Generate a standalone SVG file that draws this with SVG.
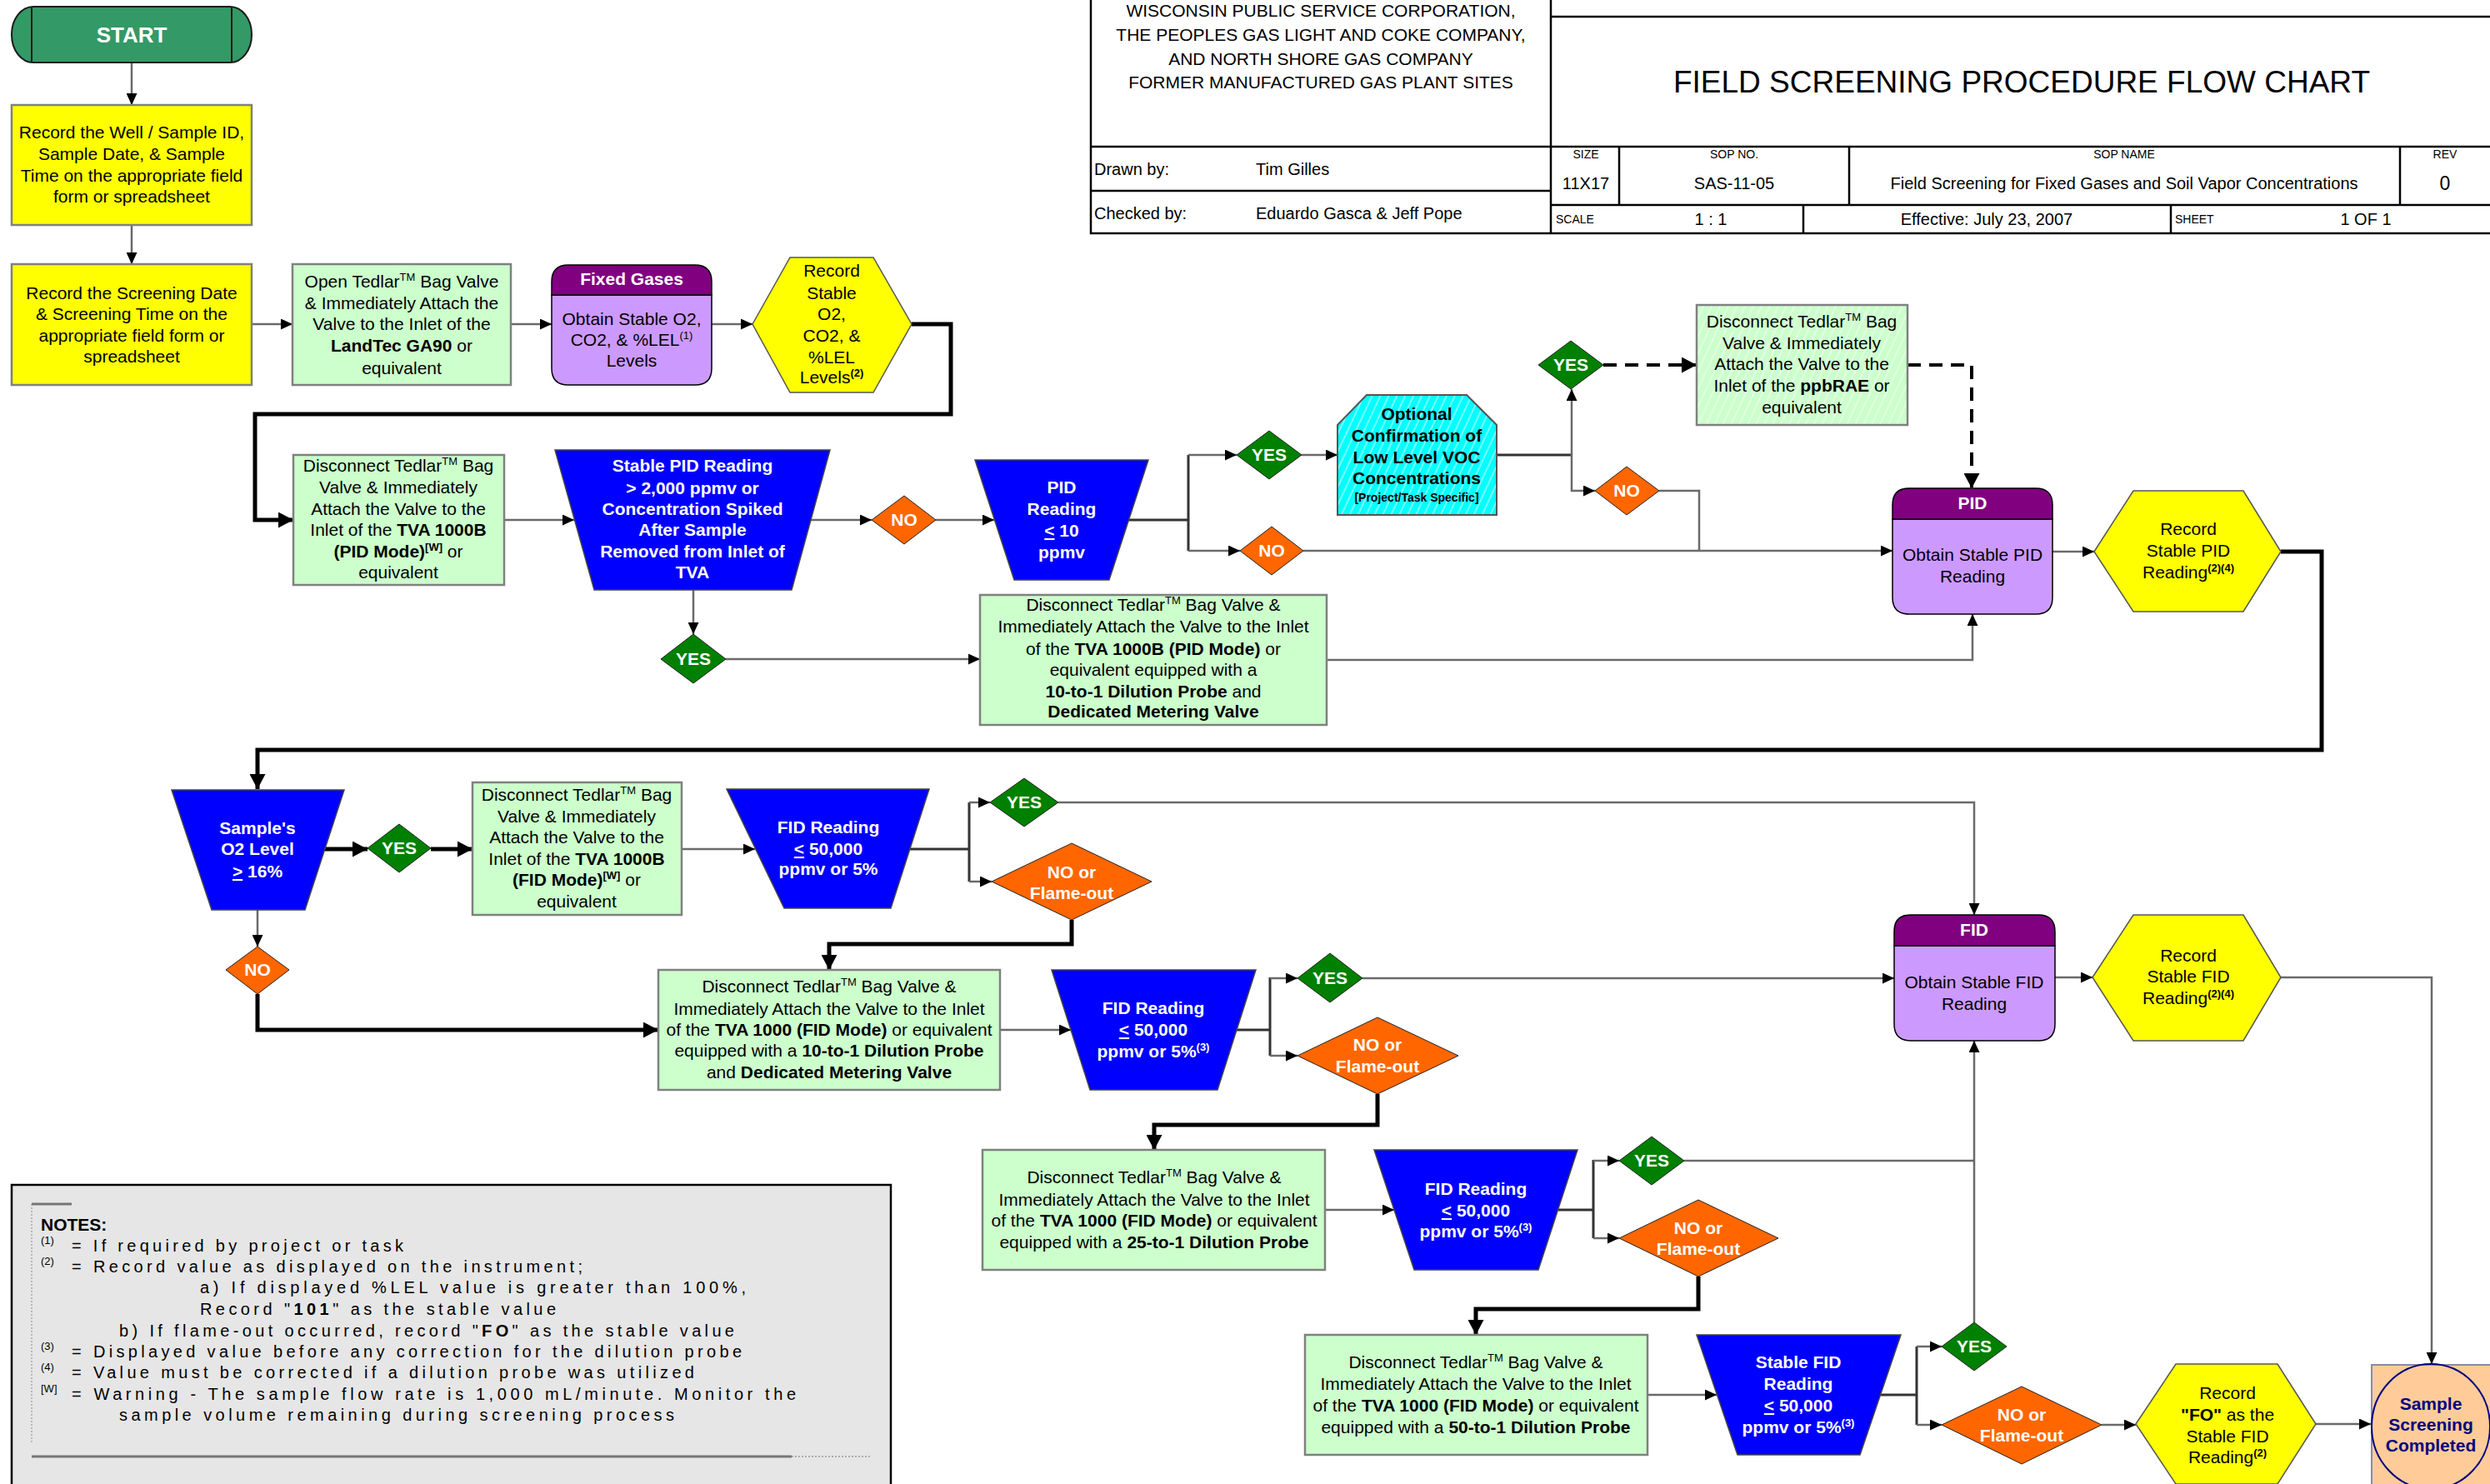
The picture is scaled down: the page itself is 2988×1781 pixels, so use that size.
<svg xmlns="http://www.w3.org/2000/svg" width="2988" height="1781" viewBox="0 0 2988 1781">
<style>
text{font-family:"Liberation Sans",Arial,sans-serif;font-size:21px;fill:#000}
.m{text-anchor:middle}
.w{fill:#fff;font-weight:bold}
.b{font-weight:bold}
.sup{font-size:13px}
.sm{font-size:14px}
.ln{fill:none;stroke:#6a6a6a;stroke-width:2.5}
.lk{fill:none;stroke:#333;stroke-width:3}
.thk{fill:none;stroke:#000;stroke-width:5}
.dsh{fill:none;stroke:#000;stroke-width:4;stroke-dasharray:16 10}
.grn{fill:#CCFFCC;stroke:#808080;stroke-width:2.5}
.yel{fill:#FFFF00;stroke:#808080;stroke-width:2.5}
.hex{fill:#FFFF00;stroke:#555;stroke-width:1.5}
.trap{fill:#0000FF;stroke:#444;stroke-width:1.5}
.yes{fill:#008000;stroke:#222;stroke-width:1}
.no{fill:#FF6600;stroke:#222;stroke-width:1}
.hdr{fill:#800080}
.body{fill:#CC99FF}
.tb{fill:none;stroke:#000;stroke-width:2.5}
.nt{font-size:20px}
.ns{font-size:13px}
</style>
<defs>
<marker id="a" markerWidth="14" markerHeight="13" refX="14" refY="6.5" orient="auto" markerUnits="userSpaceOnUse"><path d="M0,0 L14,6.5 L0,13 z" fill="#000"/></marker>
<marker id="ab" markerWidth="18" markerHeight="19" refX="18" refY="9.5" orient="auto" markerUnits="userSpaceOnUse"><path d="M0,0 L18,9.5 L0,19 z" fill="#000"/></marker>
<pattern id="hc" width="9" height="9" patternUnits="userSpaceOnUse" patternTransform="rotate(25)"><rect width="9" height="9" fill="#00FFFF"/><line x1="1" y1="0" x2="1" y2="9" stroke="#A0FFFF" stroke-width="1.5"/></pattern>
<pattern id="hg" width="9" height="9" patternUnits="userSpaceOnUse" patternTransform="rotate(25)"><rect width="9" height="9" fill="#CCFFCC"/><line x1="1" y1="0" x2="1" y2="9" stroke="#E8FFE8" stroke-width="1.5"/></pattern>
</defs>

<g id="title-block">
<path class="tb" d="M1309,0 V280 H2988 M1861,0 V280 M1861,20 H2988 M1309,176 H2988 M1309,229 H1861 M1861,246 H2988 M1943,176 V246 M2219,176 V246 M2880,176 V246 M2164,246 V280 M2605,246 V280"/>
<text class="m" x="1585" y="20">WISCONSIN PUBLIC SERVICE CORPORATION,</text>
<text class="m" x="1585" y="49">THE PEOPLES GAS LIGHT AND COKE COMPANY,</text>
<text class="m" x="1585" y="78">AND NORTH SHORE GAS COMPANY</text>
<text class="m" x="1585" y="106">FORMER MANUFACTURED GAS PLANT SITES</text>
<text class="m" x="2426" y="111" style="font-size:37px">FIELD SCREENING PROCEDURE FLOW CHART</text>
<text x="1313" y="210" style="font-size:20px">Drawn by:</text>
<text x="1507" y="210" style="font-size:20px">Tim Gilles</text>
<text x="1313" y="263" style="font-size:20px">Checked by:</text>
<text x="1507" y="263" style="font-size:20px">Eduardo Gasca &amp; Jeff Pope</text>
<text class="m sm" x="1903" y="190">SIZE</text>
<text class="m" x="1903" y="227" style="font-size:20px">11X17</text>
<text class="m sm" x="2081" y="190">SOP NO.</text>
<text class="m" x="2081" y="227" style="font-size:20px">SAS-11-05</text>
<text class="m sm" x="2549" y="190">SOP NAME</text>
<text class="m" x="2549" y="227" style="font-size:20px">Field Screening for Fixed Gases and Soil Vapor Concentrations</text>
<text class="m sm" x="2934" y="190">REV</text>
<text class="m" x="2934" y="228" style="font-size:23px">0</text>
<text class="sm" x="1867" y="268">SCALE</text>
<text class="m" x="2053" y="270" style="font-size:20px">1 : 1</text>
<text class="m" x="2384" y="270" style="font-size:20px">Effective: July 23, 2007</text>
<text class="sm" x="2610" y="268">SHEET</text>
<text class="m" x="2839" y="270" style="font-size:20px">1 OF 1</text>
</g>

<g id="notes">
<rect x="14" y="1422" width="1055" height="400" fill="#E6E6E6" stroke="#000" stroke-width="2.5"/>
<path d="M38,1445 H86" stroke="#777" stroke-width="3" fill="none"/>
<path d="M38,1445 V1733" stroke="#888" stroke-width="1" stroke-dasharray="2 2" fill="none"/>
<path d="M38,1748 H950" stroke="#777" stroke-width="3" fill="none"/>
<path d="M950,1748 H1044" stroke="#999" stroke-width="1.5" stroke-dasharray="2 2" fill="none"/>
<text class="b" x="49" y="1477">NOTES:</text>
<text class="ns" x="49" y="1493">(1)</text>
<text class="nt" x="86" y="1502" textLength="398" lengthAdjust="spacing">= If required by project or task</text>
<text class="ns" x="49" y="1518">(2)</text>
<text class="nt" x="86" y="1527" textLength="613" lengthAdjust="spacing">= Record value as displayed on the instrument;</text>
<text class="nt" x="240" y="1552" textLength="655" lengthAdjust="spacing">a) If displayed %LEL value is greater than 100%,</text>
<text class="nt" x="240" y="1578" textLength="427" lengthAdjust="spacing">Record "<tspan class="b">101</tspan>" as the stable value</text>
<text class="nt" x="143" y="1604" textLength="738" lengthAdjust="spacing">b) If flame-out occurred, record "<tspan class="b">FO</tspan>" as the stable value</text>
<text class="ns" x="49" y="1620">(3)</text>
<text class="nt" x="86" y="1629" textLength="804" lengthAdjust="spacing">= Displayed value before any correction for the dilution probe</text>
<text class="ns" x="49" y="1645">(4)</text>
<text class="nt" x="86" y="1654" textLength="747" lengthAdjust="spacing">= Value must be corrected if a dilution probe was utilized</text>
<text class="ns" x="49" y="1671">[W]</text>
<text class="nt" x="86" y="1680" textLength="869" lengthAdjust="spacing">= Warning - The sample flow rate is 1,000 mL/minute.  Monitor the</text>
<text class="nt" x="143" y="1705" textLength="666" lengthAdjust="spacing">sample volume remaining during screening process</text>
</g>

<g id="connectors">
<path class="ln" d="M158,75 V126" marker-end="url(#a)"/>
<path class="ln" d="M158,270 V317" marker-end="url(#a)"/>
<path class="ln" d="M302,389 H351" marker-end="url(#a)"/>
<path class="ln" d="M613,389 H662" marker-end="url(#a)"/>
<path class="ln" d="M854,389 H903" marker-end="url(#a)"/>
<path class="thk" d="M1094,389 H1141 V497 H306 V624 H352" marker-end="url(#ab)"/>
<path class="ln" d="M605,624 H689" marker-end="url(#a)"/>
<path class="ln" d="M973,624 H1046" marker-end="url(#a)"/>
<path class="ln" d="M1123,624 H1193" marker-end="url(#a)"/>
<path class="lk" d="M1354,624 H1426 M1426,546 V661"/>
<path class="ln" d="M1426,546 H1484" marker-end="url(#a)"/>
<path class="ln" d="M1426,661 H1488" marker-end="url(#a)"/>
<path class="ln" d="M1562,546 H1605" marker-end="url(#a)"/>
<path class="lk" d="M1796,546 H1886"/>
<path class="ln" d="M1886,546 V467" marker-end="url(#a)"/>
<path class="ln" d="M1886,546 V589 H1914" marker-end="url(#a)"/>
<path class="dsh" d="M1924,438 H2036" marker-end="url(#ab)"/>
<path class="dsh" d="M2289,438 H2366 V586" marker-end="url(#ab)"/>
<path class="ln" d="M1991,589 H2039 V661"/>
<path class="ln" d="M1564,661 H2271" marker-end="url(#a)"/>
<path class="ln" d="M2463,662 H2513" marker-end="url(#a)"/>
<path class="thk" d="M2737,662 H2786 V900 H309 V947" marker-end="url(#ab)"/>
<path class="ln" d="M832,708 V761" marker-end="url(#a)"/>
<path class="ln" d="M871,791 H1176" marker-end="url(#a)"/>
<path class="ln" d="M1592,792 H2367 V737" marker-end="url(#a)"/>
<path class="thk" d="M390,1019 H441" marker-end="url(#ab)"/>
<path class="thk" d="M517,1019 H567" marker-end="url(#ab)"/>
<path class="ln" d="M818,1019 H906" marker-end="url(#a)"/>
<path class="lk" d="M1092,1019 H1163 M1163,963 V1058"/>
<path class="ln" d="M1163,963 H1188" marker-end="url(#a)"/>
<path class="ln" d="M1163,1058 H1190" marker-end="url(#a)"/>
<path class="ln" d="M1270,963 H2369 V1098" marker-end="url(#a)"/>
<path class="thk" d="M1286,1104 V1133 H995 V1164" marker-end="url(#ab)"/>
<path class="ln" d="M309,1092 V1136" marker-end="url(#a)"/>
<path class="thk" d="M309,1193 V1236 H790" marker-end="url(#ab)"/>
<path class="ln" d="M1200,1236 H1285" marker-end="url(#a)"/>
<path class="lk" d="M1484,1236 H1524 M1524,1173 V1267"/>
<path class="ln" d="M1524,1174 H1557" marker-end="url(#a)"/>
<path class="ln" d="M1524,1267 H1557" marker-end="url(#a)"/>
<path class="ln" d="M1635,1174 H2273" marker-end="url(#a)"/>
<path class="thk" d="M1653,1313 V1350 H1385 V1380" marker-end="url(#ab)"/>
<path class="ln" d="M2466,1173 H2511" marker-end="url(#a)"/>
<path class="ln" d="M2737,1173 H2918 V1637" marker-end="url(#a)"/>
<path class="ln" d="M1590,1452 H1673" marker-end="url(#a)"/>
<path class="lk" d="M1870,1452 H1912 M1912,1392 V1486"/>
<path class="ln" d="M1912,1393 H1943" marker-end="url(#a)"/>
<path class="ln" d="M1912,1486 H1943" marker-end="url(#a)"/>
<path class="ln" d="M2021,1393 H2369"/>
<path class="thk" d="M2038,1532 V1571 H1771 V1602" marker-end="url(#ab)"/>
<path class="ln" d="M1977,1674 H2060" marker-end="url(#a)"/>
<path class="lk" d="M2257,1674 H2300 M2300,1616 V1710"/>
<path class="ln" d="M2300,1616 H2330" marker-end="url(#a)"/>
<path class="ln" d="M2300,1710 H2330" marker-end="url(#a)"/>
<path class="ln" d="M2369,1587 V1249" marker-end="url(#a)"/>
<path class="ln" d="M2522,1710 H2563" marker-end="url(#a)"/>
<path class="ln" d="M2779,1709 H2845" marker-end="url(#a)"/>
</g>

<g id="start">
<rect x="14" y="8" width="288" height="67" rx="26" ry="33" fill="#339966" stroke="#1a1a1a" stroke-width="2"/>
<path d="M38,8 V75 M278,8 V75" stroke="#1a1a1a" stroke-width="2"/>
<text class="m w" x="158" y="51" style="font-size:26px">START</text>
</g>

<g id="record-sample-id">
<rect class="yel" x="14" y="126" width="288" height="144"/>
<text class="m" x="158" y="166">Record the Well / Sample ID,</text>
<text class="m" x="158" y="192">Sample Date, &amp; Sample</text>
<text class="m" x="158" y="218">Time on the appropriate field</text>
<text class="m" x="158" y="243">form or spreadsheet</text>
</g>

<g id="record-screening-date">
<rect class="yel" x="14" y="317" width="288" height="145"/>
<text class="m" x="158" y="359">Record the Screening Date</text>
<text class="m" x="158" y="384">&amp; Screening Time on the</text>
<text class="m" x="158" y="410">appropriate field form or</text>
<text class="m" x="158" y="435">spreadsheet</text>
</g>

<g id="open-tedlar">
<rect class="grn" x="351" y="317" width="262" height="145"/>
<text class="m" x="482" y="345">Open Tedlar<tspan class="sup" dy="-8">TM</tspan><tspan dy="8"> Bag Valve</tspan></text>
<text class="m" x="482" y="371">&amp; Immediately Attach the</text>
<text class="m" x="482" y="396">Valve to the Inlet of the</text>
<text class="m" x="482" y="422"><tspan class="b">LandTec GA90</tspan> or</text>
<text class="m" x="482" y="449">equivalent</text>
</g>

<g id="fixed-gases">
<path class="body" d="M662,354 H854 V442 Q854,462 834,462 H682 Q662,462 662,442 Z" stroke="#000" stroke-width="1.5"/>
<path class="hdr" d="M682,318 H834 Q854,318 854,338 V354 H662 V338 Q662,318 682,318 Z" stroke="#000" stroke-width="1.5"/>
<text class="m w" x="758" y="342">Fixed Gases</text>
<text class="m" x="758" y="390">Obtain Stable O2,</text>
<text class="m" x="758" y="415">CO2, &amp; %LEL<tspan class="sup" dy="-8">(1)</tspan></text>
<text class="m" x="758" y="440">Levels</text>
</g>

<g id="record-o2">
<polygon class="hex" points="903,389 948,309 1048,309 1094,389 1048,471 948,471"/>
<text class="m" x="998" y="332">Record</text>
<text class="m" x="998" y="359">Stable</text>
<text class="m" x="998" y="384">O2,</text>
<text class="m" x="998" y="410">CO2, &amp;</text>
<text class="m" x="998" y="436">%LEL</text>
<text class="m" x="998" y="460">Levels<tspan class="sup b" dy="-8">(2)</tspan></text>
</g>

<g id="tedlar-pid">
<rect class="grn" x="352" y="546" width="253" height="156"/>
<text class="m" x="478" y="566">Disconnect Tedlar<tspan class="sup" dy="-8">TM</tspan><tspan dy="8"> Bag</tspan></text>
<text class="m" x="478" y="592">Valve &amp; Immediately</text>
<text class="m" x="478" y="618">Attach the Valve to the</text>
<text class="m" x="478" y="643">Inlet of the <tspan class="b">TVA 1000B</tspan></text>
<text class="m" x="478" y="669"><tspan class="b">(PID Mode)</tspan><tspan class="sup b" dy="-8">[W]</tspan><tspan dy="8"> or</tspan></text>
<text class="m" x="478" y="694">equivalent</text>
</g>

<g id="stable-pid-check">
<polygon class="trap" points="666,540 996,540 950,708 713,708"/>
<text class="m w" x="831" y="566">Stable PID Reading</text>
<text class="m w" x="831" y="593">&gt; 2,000 ppmv or</text>
<text class="m w" x="831" y="618">Concentration Spiked</text>
<text class="m w" x="831" y="643">After Sample</text>
<text class="m w" x="831" y="669">Removed from Inlet of</text>
<text class="m w" x="831" y="694">TVA</text>
</g>

<g id="no1"><polygon class="no" points="1046,624 1085,595 1123,624 1085,653"/><text class="m w" x="1085" y="631">NO</text></g>

<g id="pid-le-10">
<polygon class="trap" points="1170,552 1378,552 1331,696 1217,696"/>
<text class="m w" x="1274" y="592">PID</text>
<text class="m w" x="1274" y="618">Reading</text>
<text class="m w" x="1274" y="644"><tspan text-decoration="underline">&lt;</tspan> 10</text>
<text class="m w" x="1274" y="670">ppmv</text>
</g>

<g id="yes2"><polygon class="yes" points="1484,546 1523,517 1562,546 1523,575"/><text class="m w" x="1523" y="553">YES</text></g>
<g id="no4"><polygon class="no" points="1488,661 1526,632 1564,661 1526,690"/><text class="m w" x="1526" y="668">NO</text></g>

<g id="optional">
<polygon points="1605,510 1640,474 1760,474 1796,510 1796,618 1605,618" fill="url(#hc)" stroke="#555" stroke-width="2"/>
<text class="m b" x="1700" y="504">Optional</text>
<text class="m b" x="1700" y="530">Confirmation of</text>
<text class="m b" x="1700" y="556">Low Level VOC</text>
<text class="m b" x="1700" y="581">Concentrations</text>
<text class="m b sm" x="1700" y="602">[Project/Task Specific]</text>
</g>

<g id="yes3"><polygon class="yes" points="1846,438 1885,409 1924,438 1885,467"/><text class="m w" x="1885" y="445">YES</text></g>
<g id="no3"><polygon class="no" points="1914,589 1952,560 1991,589 1952,618"/><text class="m w" x="1952" y="596">NO</text></g>

<g id="tedlar-ppbrae">
<rect x="2036" y="366" width="253" height="144" fill="url(#hg)" stroke="#808080" stroke-width="2.5"/>
<text class="m" x="2162" y="393">Disconnect Tedlar<tspan class="sup" dy="-8">TM</tspan><tspan dy="8"> Bag</tspan></text>
<text class="m" x="2162" y="419">Valve &amp; Immediately</text>
<text class="m" x="2162" y="444">Attach the Valve to the</text>
<text class="m" x="2162" y="470">Inlet of the <tspan class="b">ppbRAE</tspan> or</text>
<text class="m" x="2162" y="496">equivalent</text>
</g>

<g id="pid">
<path class="body" d="M2271,623 H2463 V717 Q2463,737 2443,737 H2291 Q2271,737 2271,717 Z" stroke="#000" stroke-width="1.5"/>
<path class="hdr" d="M2291,586 H2443 Q2463,586 2463,606 V623 H2271 V606 Q2271,586 2291,586 Z" stroke="#000" stroke-width="1.5"/>
<text class="m w" x="2367" y="611">PID</text>
<text class="m" x="2367" y="673">Obtain Stable PID</text>
<text class="m" x="2367" y="699">Reading</text>
</g>

<g id="record-pid">
<polygon class="hex" points="2513,662 2560,589 2692,589 2737,662 2692,734 2560,734"/>
<text class="m" x="2626" y="642">Record</text>
<text class="m" x="2626" y="668">Stable PID</text>
<text class="m" x="2626" y="694">Reading<tspan class="sup b" dy="-8">(2)(4)</tspan></text>
</g>

<g id="yes1"><polygon class="yes" points="793,791 832,761 871,791 832,820"/><text class="m w" x="832" y="798">YES</text></g>

<g id="tedlar-pid-dilution">
<rect class="grn" x="1176" y="714" width="416" height="156"/>
<text class="m" x="1384" y="733">Disconnect Tedlar<tspan class="sup" dy="-8">TM</tspan><tspan dy="8"> Bag Valve &amp;</tspan></text>
<text class="m" x="1384" y="759">Immediately Attach the Valve to the Inlet</text>
<text class="m" x="1384" y="786">of the <tspan class="b">TVA 1000B (PID Mode)</tspan> or</text>
<text class="m" x="1384" y="811">equivalent equipped with a</text>
<text class="m" x="1384" y="837"><tspan class="b">10-to-1 Dilution Probe</tspan> and</text>
<text class="m b" x="1384" y="861">Dedicated Metering Valve</text>
</g>

<g id="o2-level">
<polygon class="trap" points="206,948 413,948 366,1092 254,1092"/>
<text class="m w" x="309" y="1001">Sample's</text>
<text class="m w" x="309" y="1026">O2 Level</text>
<text class="m w" x="309" y="1053"><tspan text-decoration="underline">&gt;</tspan> 16%</text>
</g>

<g id="yes4"><polygon class="yes" points="441,1018 479,989 517,1018 479,1047"/><text class="m w" x="479" y="1025">YES</text></g>
<g id="no6"><polygon class="no" points="271,1164 309,1136 347,1164 309,1193"/><text class="m w" x="309" y="1171">NO</text></g>

<g id="tedlar-fid">
<rect class="grn" x="567" y="939" width="251" height="159"/>
<text class="m" x="692" y="961">Disconnect Tedlar<tspan class="sup" dy="-8">TM</tspan><tspan dy="8"> Bag</tspan></text>
<text class="m" x="692" y="987">Valve &amp; Immediately</text>
<text class="m" x="692" y="1012">Attach the Valve to the</text>
<text class="m" x="692" y="1038">Inlet of the <tspan class="b">TVA 1000B</tspan></text>
<text class="m" x="692" y="1063"><tspan class="b">(FID Mode)</tspan><tspan class="sup b" dy="-8">[W]</tspan><tspan dy="8"> or</tspan></text>
<text class="m" x="692" y="1089">equivalent</text>
</g>

<g id="fid-check-1">
<polygon class="trap" points="872,947 1115,947 1069,1090 941,1090"/>
<text class="m w" x="994" y="1000">FID Reading</text>
<text class="m w" x="994" y="1026"><tspan text-decoration="underline">&lt;</tspan> 50,000</text>
<text class="m w" x="994" y="1050">ppmv or 5%</text>
</g>

<g id="yes5"><polygon class="yes" points="1188,963 1229,934 1270,963 1229,992"/><text class="m w" x="1229" y="970">YES</text></g>
<g id="no5"><polygon class="no" points="1190,1058 1286,1012 1382,1058 1286,1104"/><text class="m w" x="1286" y="1054">NO or</text><text class="m w" x="1286" y="1079">Flame-out</text></g>

<g id="tedlar-fid-10">
<rect class="grn" x="790" y="1164" width="410" height="144"/>
<text class="m" x="995" y="1191">Disconnect Tedlar<tspan class="sup" dy="-8">TM</tspan><tspan dy="8"> Bag Valve &amp;</tspan></text>
<text class="m" x="995" y="1218">Immediately Attach the Valve to the Inlet</text>
<text class="m" x="995" y="1243">of the <tspan class="b">TVA 1000 (FID Mode)</tspan> or equivalent</text>
<text class="m" x="995" y="1268">equipped with a <tspan class="b">10-to-1 Dilution Probe</tspan></text>
<text class="m" x="995" y="1294">and <tspan class="b">Dedicated Metering Valve</tspan></text>
</g>

<g id="fid-check-2">
<polygon class="trap" points="1262,1164 1507,1164 1461,1308 1308,1308"/>
<text class="m w" x="1384" y="1217">FID Reading</text>
<text class="m w" x="1384" y="1243"><tspan text-decoration="underline">&lt;</tspan> 50,000</text>
<text class="m w" x="1384" y="1269">ppmv or 5%<tspan class="sup" dy="-8">(3)</tspan></text>
</g>

<g id="yes6"><polygon class="yes" points="1557,1174 1596,1144 1635,1174 1596,1203"/><text class="m w" x="1596" y="1181">YES</text></g>
<g id="no7"><polygon class="no" points="1557,1267 1653,1221 1750,1267 1653,1313"/><text class="m w" x="1653" y="1261">NO or</text><text class="m w" x="1653" y="1287">Flame-out</text></g>

<g id="fid">
<path class="body" d="M2273,1135 H2466 V1229 Q2466,1249 2446,1249 H2293 Q2273,1249 2273,1229 Z" stroke="#000" stroke-width="1.5"/>
<path class="hdr" d="M2293,1098 H2446 Q2466,1098 2466,1118 V1135 H2273 V1118 Q2273,1098 2293,1098 Z" stroke="#000" stroke-width="1.5"/>
<text class="m w" x="2369" y="1123">FID</text>
<text class="m" x="2369" y="1186">Obtain Stable FID</text>
<text class="m" x="2369" y="1212">Reading</text>
</g>

<g id="record-fid">
<polygon class="hex" points="2511,1173 2560,1098 2692,1098 2737,1173 2692,1249 2560,1249"/>
<text class="m" x="2626" y="1154">Record</text>
<text class="m" x="2626" y="1179">Stable FID</text>
<text class="m" x="2626" y="1205">Reading<tspan class="sup b" dy="-8">(2)(4)</tspan></text>
</g>

<g id="tedlar-fid-25">
<rect class="grn" x="1179" y="1380" width="411" height="144"/>
<text class="m" x="1385" y="1420">Disconnect Tedlar<tspan class="sup" dy="-8">TM</tspan><tspan dy="8"> Bag Valve &amp;</tspan></text>
<text class="m" x="1385" y="1447">Immediately Attach the Valve to the Inlet</text>
<text class="m" x="1385" y="1472">of the <tspan class="b">TVA 1000 (FID Mode)</tspan> or equivalent</text>
<text class="m" x="1385" y="1498">equipped with a <tspan class="b">25-to-1 Dilution Probe</tspan></text>
</g>

<g id="fid-check-3">
<polygon class="trap" points="1649,1380 1893,1380 1846,1524 1697,1524"/>
<text class="m w" x="1771" y="1434">FID Reading</text>
<text class="m w" x="1771" y="1460"><tspan text-decoration="underline">&lt;</tspan> 50,000</text>
<text class="m w" x="1771" y="1485">ppmv or 5%<tspan class="sup" dy="-8">(3)</tspan></text>
</g>

<g id="yes7"><polygon class="yes" points="1943,1393 1982,1364 2021,1393 1982,1422"/><text class="m w" x="1982" y="1400">YES</text></g>
<g id="no8"><polygon class="no" points="1943,1486 2038,1440 2134,1486 2038,1532"/><text class="m w" x="2038" y="1481">NO or</text><text class="m w" x="2038" y="1506">Flame-out</text></g>

<g id="tedlar-fid-50">
<rect class="grn" x="1566" y="1602" width="411" height="144"/>
<text class="m" x="1771" y="1642">Disconnect Tedlar<tspan class="sup" dy="-8">TM</tspan><tspan dy="8"> Bag Valve &amp;</tspan></text>
<text class="m" x="1771" y="1668">Immediately Attach the Valve to the Inlet</text>
<text class="m" x="1771" y="1694">of the <tspan class="b">TVA 1000 (FID Mode)</tspan> or equivalent</text>
<text class="m" x="1771" y="1720">equipped with a <tspan class="b">50-to-1 Dilution Probe</tspan></text>
</g>

<g id="stable-fid-check">
<polygon class="trap" points="2036,1602 2281,1602 2232,1746 2085,1746"/>
<text class="m w" x="2158" y="1642">Stable FID</text>
<text class="m w" x="2158" y="1668">Reading</text>
<text class="m w" x="2158" y="1694"><tspan text-decoration="underline">&lt;</tspan> 50,000</text>
<text class="m w" x="2158" y="1720">ppmv or 5%<tspan class="sup" dy="-8">(3)</tspan></text>
</g>

<g id="yes8"><polygon class="yes" points="2330,1616 2369,1587 2408,1616 2369,1645"/><text class="m w" x="2369" y="1623">YES</text></g>
<g id="no9"><polygon class="no" points="2330,1710 2426,1664 2522,1710 2426,1757"/><text class="m w" x="2426" y="1705">NO or</text><text class="m w" x="2426" y="1730">Flame-out</text></g>

<g id="record-fo">
<polygon class="hex" points="2563,1709 2611,1637 2733,1637 2779,1709 2733,1781 2611,1781"/>
<text class="m" x="2673" y="1679">Record</text>
<text class="m" x="2673" y="1705"><tspan class="b">"FO"</tspan> as the</text>
<text class="m" x="2673" y="1731">Stable FID</text>
<text class="m" x="2673" y="1756">Reading<tspan class="sup b" dy="-8">(2)</tspan></text>
</g>

<g id="completed">
<rect x="2846" y="1638" width="150" height="150" fill="#FFCC99" stroke="#8a8aa8" stroke-width="2"/>
<ellipse cx="2917" cy="1712" rx="71" ry="75" fill="none" stroke="#000080" stroke-width="2"/>
<text class="m b" x="2917" y="1692" style="fill:#000080">Sample</text>
<text class="m b" x="2917" y="1717" style="fill:#000080">Screening</text>
<text class="m b" x="2917" y="1742" style="fill:#000080">Completed</text>
</g>
</svg>
